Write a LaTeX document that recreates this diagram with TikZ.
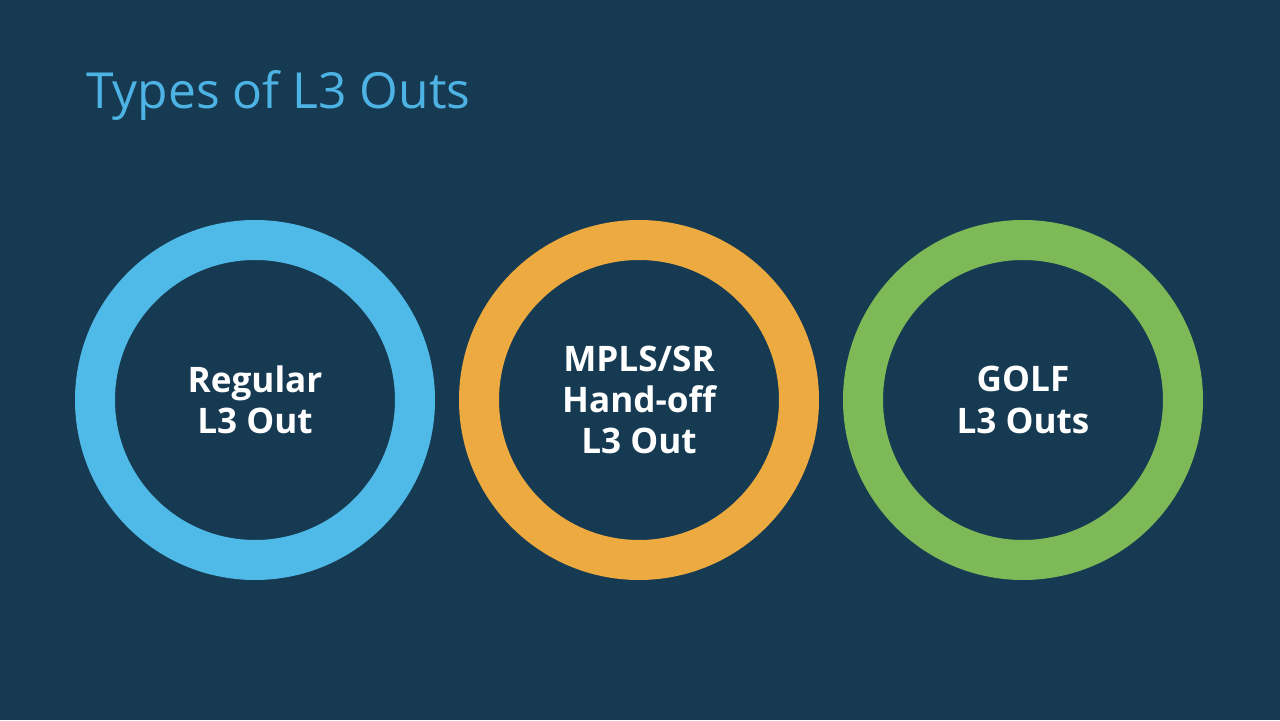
\documentclass[tikz,border=0pt]{standalone}
\usepackage{fontspec}
\setmainfont{Open Sans}
\definecolor{bgnavy}{HTML}{163A52}
\definecolor{ringblue}{HTML}{4FB9E7}
\definecolor{ringorange}{HTML}{ECAA40}
\definecolor{ringgreen}{HTML}{7DBA57}
\definecolor{titleblue}{HTML}{4DB3E4}
\tikzset{
  ring/.style={circle, draw=#1, line width=0.8cm, minimum size=6.4cm, inner sep=0pt},
  label/.style={text=white, font=\fontsize{20}{23.5}\selectfont\bfseries, align=center}
}
\begin{document}
\begin{tikzpicture}
  \fill[bgnavy] (0,0) rectangle (25.6,14.4);
  \useasboundingbox (0,0) rectangle (25.6,14.4);
  \node[anchor=west, text=titleblue, font=\fontsize{28.3}{32}\selectfont] (title) at (1.6,12.5) {Types of L3 Outs};
  \draw
    (5.1,6.4) node[ring=ringblue] (regular){}
    (12.78,6.4) node[ring=ringorange] (mpls){}
    (20.46,6.4) node[ring=ringgreen] (golf){};
  \node[label] (regulartext) at (regular) {Regular\\L3 Out};
  \node[label] (mplstext) at (mpls) {MPLS/SR\\Hand-off\\L3 Out};
  \node[label] (golftext) at (golf) {GOLF\\L3 Outs};
\end{tikzpicture}
\end{document}
